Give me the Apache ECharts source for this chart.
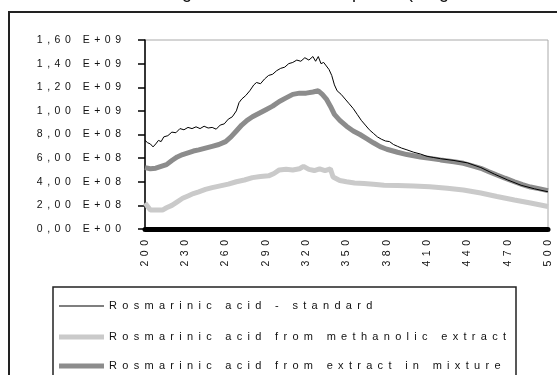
<!DOCTYPE html>
<html>
<head>
<meta charset="utf-8">
<script src="https://cdn.jsdelivr.net/npm/echarts@6/dist/echarts.min.js"></script>
<style>
  html, body { margin: 0; padding: 0; background: #fff; }
  #chart { width: 557px; height: 375px; }
</style>
</head>
<body>
<div id="chart"></div>
<script>
// Wavelength axis (nm) and tick spacing
const xMin = 200, xMax = 500, xStep = 30;
const yMin = 0, yMax = 1.6e9, yStep = 2e8;

const seriesNames = [
  'Rosmarinic acid - standard',
  'Rosmarinic acid from methanolic extract',
  'Rosmarinic acid from extract in mixture'
];
const seriesColors = ['#000000', '#cacaca', '#8c8c8c'];
const seriesWidths = [1, 5, 5];

// Rosmarinic acid standard
const stdNm = [200,202,204,206,208,210,212,214,217,220,223,226,229,232,235,238,241,244,247,250,253,256,259,262,265,268,270,272,275,278,281,283,286,289,292,295,298,301,304,307,310,313,316,319,322,325,327,329,331,333,335,337,339,341,343,346,349,352,355,358,361,364,367,370,373,376,379,382,385,388,391,395,400,405,410,415,420,430,440,450,460,470,480,490,500];
const stdVal = [7.5e8,7.3e8,7.2e8,6.95e8,7.2e8,7.5e8,7.4e8,7.8e8,7.9e8,8.2e8,8.15e8,8.5e8,8.4e8,8.6e8,8.5e8,8.65e8,8.5e8,8.7e8,8.55e8,8.6e8,8.45e8,8.8e8,8.9e8,9.3e8,9.5e8,1.0e9,1.07e9,1.1e9,1.13e9,1.17e9,1.22e9,1.24e9,1.23e9,1.27e9,1.30e9,1.31e9,1.34e9,1.36e9,1.37e9,1.40e9,1.41e9,1.43e9,1.42e9,1.45e9,1.43e9,1.46e9,1.42e9,1.46e9,1.40e9,1.41e9,1.38e9,1.35e9,1.30e9,1.22e9,1.17e9,1.14e9,1.10e9,1.06e9,1.02e9,9.7e8,9.2e8,8.8e8,8.4e8,8.1e8,7.8e8,7.6e8,7.45e8,7.4e8,7.15e8,7.0e8,6.85e8,6.7e8,6.5e8,6.35e8,6.15e8,6.05e8,5.95e8,5.8e8,5.6e8,5.2e8,4.65e8,4.15e8,3.7e8,3.4e8,3.15e8];

// Methanolic extract
const methNm = [200,202,204,208,213,216,220,224,228,232,236,240,245,250,256,262,268,274,280,286,292,296,300,305,310,315,318,322,326,330,334,338,340,345,350,356,363,370,378,388,400,412,425,437,450,462,475,487,500];
const methVal = [2.2e8,1.9e8,1.6e8,1.6e8,1.6e8,1.8e8,2.0e8,2.3e8,2.6e8,2.8e8,3.0e8,3.15e8,3.35e8,3.5e8,3.65e8,3.8e8,4.0e8,4.15e8,4.35e8,4.45e8,4.5e8,4.7e8,5.0e8,5.05e8,5.0e8,5.1e8,5.3e8,5.05e8,4.95e8,5.1e8,4.95e8,5.1e8,4.4e8,4.1e8,4.0e8,3.9e8,3.85e8,3.78e8,3.7e8,3.68e8,3.64e8,3.58e8,3.45e8,3.3e8,3.05e8,2.75e8,2.45e8,2.2e8,1.9e8];

// Extract in mixture
const mixNm = [200,204,208,212,216,220,224,228,232,236,240,245,250,255,260,264,268,272,276,280,285,290,295,300,305,310,315,320,325,329,332,335,338,341,345,350,355,360,365,370,375,380,388,395,405,412,420,430,437,445,450,456,462,468,475,481,487,494,500];
const mixVal = [5.2e8,5.1e8,5.15e8,5.3e8,5.45e8,5.8e8,6.1e8,6.3e8,6.45e8,6.6e8,6.7e8,6.85e8,7.0e8,7.15e8,7.4e8,7.8e8,8.3e8,8.8e8,9.2e8,9.5e8,9.8e8,1.01e9,1.04e9,1.08e9,1.11e9,1.14e9,1.15e9,1.15e9,1.16e9,1.17e9,1.14e9,1.10e9,1.04e9,9.7e8,9.2e8,8.7e8,8.3e8,8.0e8,7.65e8,7.3e8,6.97e8,6.75e8,6.5e8,6.3e8,6.1e8,5.98e8,5.85e8,5.7e8,5.56e8,5.3e8,5.14e8,4.85e8,4.57e8,4.3e8,4.0e8,3.75e8,3.55e8,3.4e8,3.25e8];

const pairs = (xs, ys) => xs.map((x, i) => [x, ys[i]]);

const FONT = 'Liberation Sans, Arial, sans-serif';

// Letter-spaced text: each character becomes a rich-text cell that is
// its own advance width plus a fixed tracking gap.
const measureCtx = document.createElement('canvas').getContext('2d');
function trackedRich(texts, fontSize, lineHeight, spacing) {
  measureCtx.font = fontSize + 'px ' + FONT;
  const rich = { last: { align: 'left', lineHeight: lineHeight } };
  texts.join('').split('').forEach(ch => {
    const key = 'c' + ch.charCodeAt(0);
    if (!rich[key]) {
      rich[key] = {
        width: measureCtx.measureText(ch).width + spacing,
        align: 'left', lineHeight: lineHeight
      };
    }
  });
  return rich;
}
function tracked(s) {
  const chars = s.split('');
  return chars.map((ch, i) =>
    '{' + (i === chars.length - 1 ? 'last' : 'c' + ch.charCodeAt(0)) + '|' + ch + '}'
  ).join('');
}

function sciLabel(v) {
  if (v === 0) return '0,00 E+00';
  const e = Math.floor(Math.log10(v) + 1e-9);
  const m = (v / Math.pow(10, e)).toFixed(2).replace('.', ',');
  return m + ' E+' + String(e).padStart(2, '0');
}

const axisRich = trackedRich(['0123456789, E+'], 10.5, 12, 4.5);
const legendRich = trackedRich(seriesNames, 11, 14, 5.3);

const chart = echarts.init(document.getElementById('chart'), null, { renderer: 'canvas' });

const legendRowTop = [299, 330, 359];

chart.setOption({
  animation: false,
  backgroundColor: '#fff',
  grid: {
    left: 145, top: 40, right: 9, bottom: 146,
    show: true, borderColor: '#aaa', borderWidth: 1, backgroundColor: 'transparent'
  },
  xAxis: {
    type: 'value', min: xMin, max: xMax, interval: xStep,
    axisLine: { show: true, onZero: false, lineStyle: { color: '#000', width: 5 } },
    axisTick: { show: false },
    splitLine: { show: false },
    axisLabel: {
      rotate: 90, margin: 11, fontFamily: FONT, fontSize: 10.5, color: '#111',
      formatter: v => tracked(String(v)),
      rich: axisRich
    }
  },
  yAxis: {
    type: 'value', min: yMin, max: yMax, interval: yStep,
    axisLine: { show: true, lineStyle: { color: '#000', width: 1.5 } },
    axisTick: { show: true, inside: false, length: 7, lineStyle: { color: '#000', width: 1.5 } },
    splitLine: { show: false },
    axisLabel: {
      margin: 24, fontFamily: FONT, fontSize: 10.5, color: '#111',
      formatter: v => tracked(sciLabel(v)),
      rich: axisRich
    }
  },
  legend: seriesNames.map((n, i) => ({
    orient: 'vertical', left: 59, top: legendRowTop[i], padding: 0,
    itemWidth: 45, itemHeight: seriesWidths[i], icon: 'rect',
    data: [n],
    textStyle: { fontFamily: FONT, fontSize: 11, color: '#111', lineHeight: 14, rich: legendRich },
    formatter: tracked
  })),
  series: seriesNames.map((n, i) => ({
    name: n, type: 'line',
    data: [pairs(stdNm, stdVal), pairs(methNm, methVal), pairs(mixNm, mixVal)][i],
    showSymbol: false, symbol: 'none', z: [5, 3, 4][i],
    lineStyle: { color: seriesColors[i], width: seriesWidths[i] },
    itemStyle: { color: seriesColors[i] }
  })),
  graphic: [
    {
      type: 'text', left: 119, top: -16, silent: true,
      style: { text: 'Matching of rosmarinic acid spectra (range 200–500 nm)', font: '18px Liberation Sans, Arial, sans-serif', fill: '#111' }
    },
    {
      type: 'rect', silent: true, z: -1,
      shape: { x: 9, y: 12, width: 620, height: 420 },
      style: { fill: 'none', stroke: '#222', lineWidth: 2 }
    },
    {
      type: 'rect', silent: true,
      shape: { x: 53, y: 287, width: 463, height: 200 },
      style: { fill: 'none', stroke: '#222', lineWidth: 1.5 }
    }
  ]
});
</script>
</body>
</html>
